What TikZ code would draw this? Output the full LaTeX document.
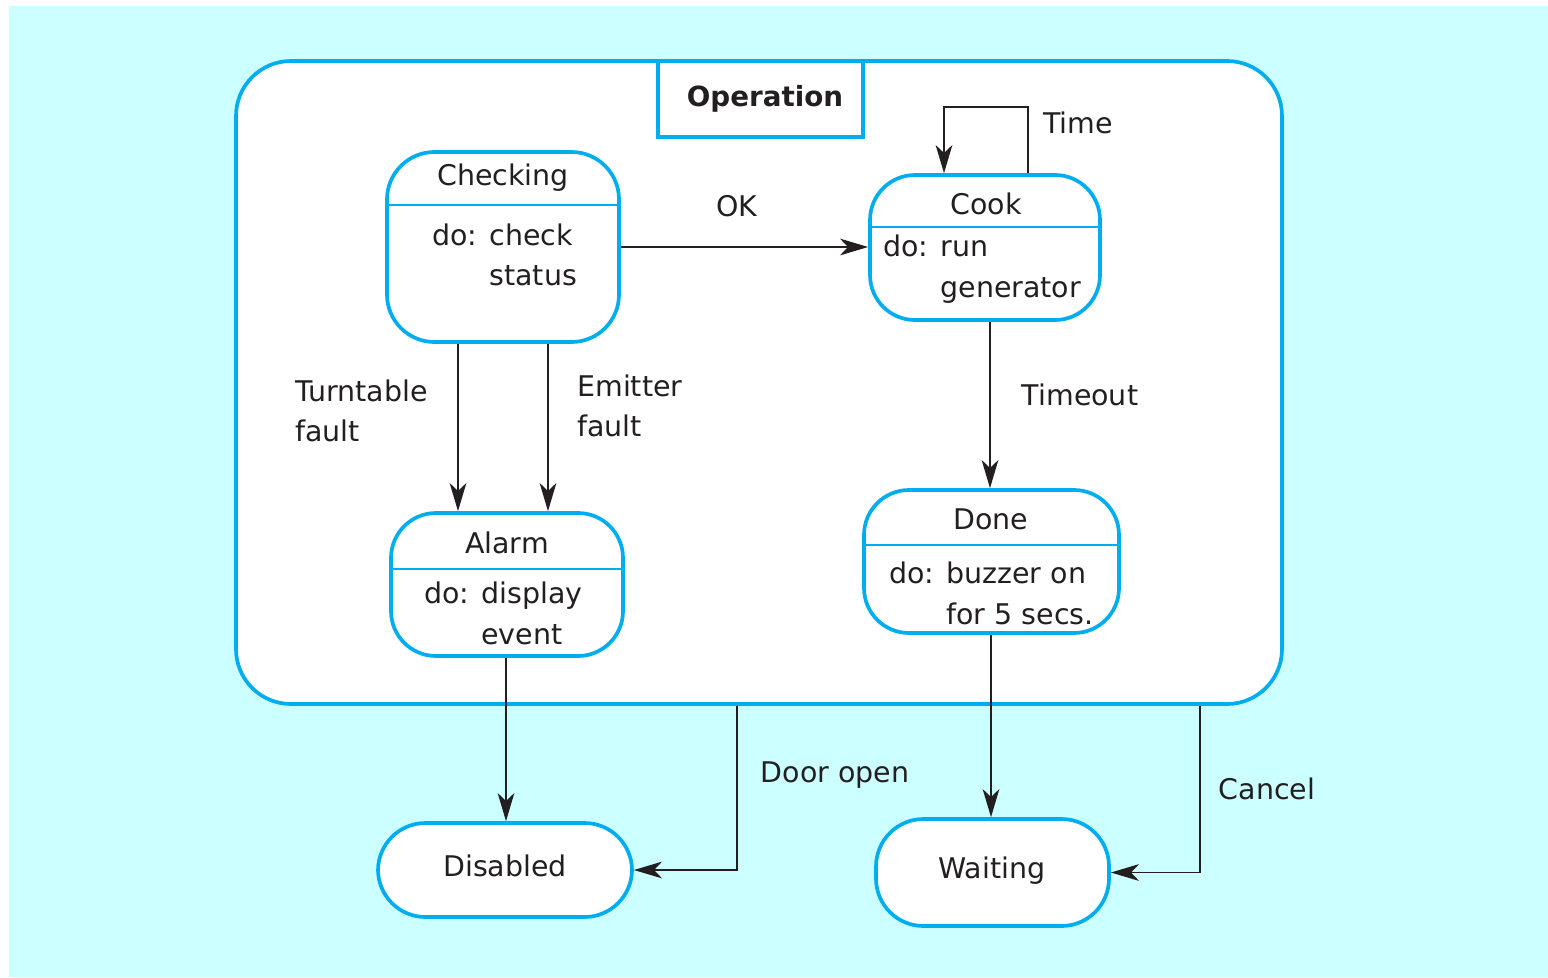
\documentclass[tikz,border=0pt]{standalone}
\usepackage{fontspec}
\setmainfont{DejaVu Sans}
\usetikzlibrary{arrows.meta,fit}

\definecolor{opblue}{RGB}{0,174,239}
\definecolor{opbg}{RGB}{204,255,255}
\definecolor{ink}{RGB}{35,31,32}

\begin{document}
\begin{tikzpicture}[x=0.02cm, y=-0.02cm,
    state/.style={draw=opblue, line width=2.1pt, fill=white, rounded corners=0.95cm, inner sep=0pt},
    divider/.style={draw=opblue, line width=0.8pt},
    txt/.style={text=ink, font=\fontsize{16.2}{23.2}\selectfont, inner sep=0pt},
    body/.style={txt, align=left, anchor=west},
    arr/.style={draw=ink, line width=0.9pt, -{Stealth[length=16pt, width=9.5pt, inset=4.5pt]}}]

    % Background:
    \useasboundingbox (0,0) rectangle (1548,977);
    \fill[opbg] (9,6) rectangle (1548,977);

    % Operation superstate:
    \node[state, rounded corners=1.1cm, fit={(236,61) (1282,704)}] (op) {};
    \node[draw=opblue, line width=2.1pt, fill=white, inner sep=0pt, fit={(658,61) (863,137)}] (opbox) {};
    \node[txt, font=\fontsize{15.8}{23}\selectfont\bfseries] (opname) at (765,99) {Operation};

    % Checking:
    \node[state, fit={(387,152) (619,342)}] (chk) {};
    \draw[divider] (chk.west |- 0,205) -- (chk.east |- 0,205);
    \node[txt] (chkname) at (503,178) {Checking};
    \node[body] (chkdo) at (432,255) {do: check\\\phantom{do: }status};

    % Cook:
    \node[state, rounded corners=0.9cm, fit={(870,175) (1100,320)}] (cook) {};
    \draw[divider] (cook.west |- 0,227) -- (cook.east |- 0,227);
    \node[txt] (cookname) at (986,204) {Cook};
    \node[body] (cookdo) at (883,269) {do: run\\\phantom{do: }generator};

    % Alarm:
    \node[state, rounded corners=0.9cm, fit={(391,513) (623,656)}] (alarm) {};
    \draw[divider] (alarm.west |- 0,569) -- (alarm.east |- 0,569);
    \node[txt] (alarmname) at (507,543) {Alarm};
    \node[body] (alarmdo) at (424,613) {do: display\\\phantom{do: }event};

    % Done:
    \node[state, rounded corners=0.9cm, fit={(864,490) (1119,633)}] (done) {};
    \draw[divider] (done.west |- 0,545) -- (done.east |- 0,545);
    \node[txt] (donename) at (991,519) {Done};
    \node[body] (donedo) at (889,593) {do: buzzer on\\\phantom{do: }for 5 secs.};

    % Outer states:
    \node[state, fit={(378,823) (632,917)}] (dis) {};
    \node[txt] (disname) at (505,866) {Disabled};
    \node[state, fit={(876,819) (1109,926)}] (wait) {};
    \node[txt] (waitname) at (992,871) {Waiting};

    % Transitions:
    \draw[arr] (chk.east) -- (chk.east -| cook.west);
    \node[txt] (ok) at (737,206) {OK};
    \draw[arr] (1028,0 |- cook.north) -- ++(0,-66) -| (944,0 |- cook.north);
    \node[txt] (time) at (1078,123) {Time};
    \draw[arr] (458,0 |- chk.south) -- (458,0 |- alarm.north);
    \node[body] (turn) at (295,411) {Turntable\\fault};
    \draw[arr] (548,0 |- chk.south) -- (548,0 |- alarm.north);
    \node[body] (emit) at (577,406) {Emitter\\fault};
    \draw[arr] (990,0 |- cook.south) -- (990,0 |- done.north);
    \node[txt] (timeout) at (1080,395) {Timeout};
    \draw[arr] (506,0 |- alarm.south) -- (506,0 |- dis.north);
    \draw[arr] (991,0 |- done.south) -- (991,0 |- wait.north);
    \draw[arr] (737,0 |- op.south) |- (dis.east);
    \node[txt] (door) at (835,775) {Door open};
    \draw[arr] (1200,0 |- op.south) |- (wait.east);
    \node[txt] (cancel) at (1267,789) {Cancel};
\end{tikzpicture}
\end{document}
